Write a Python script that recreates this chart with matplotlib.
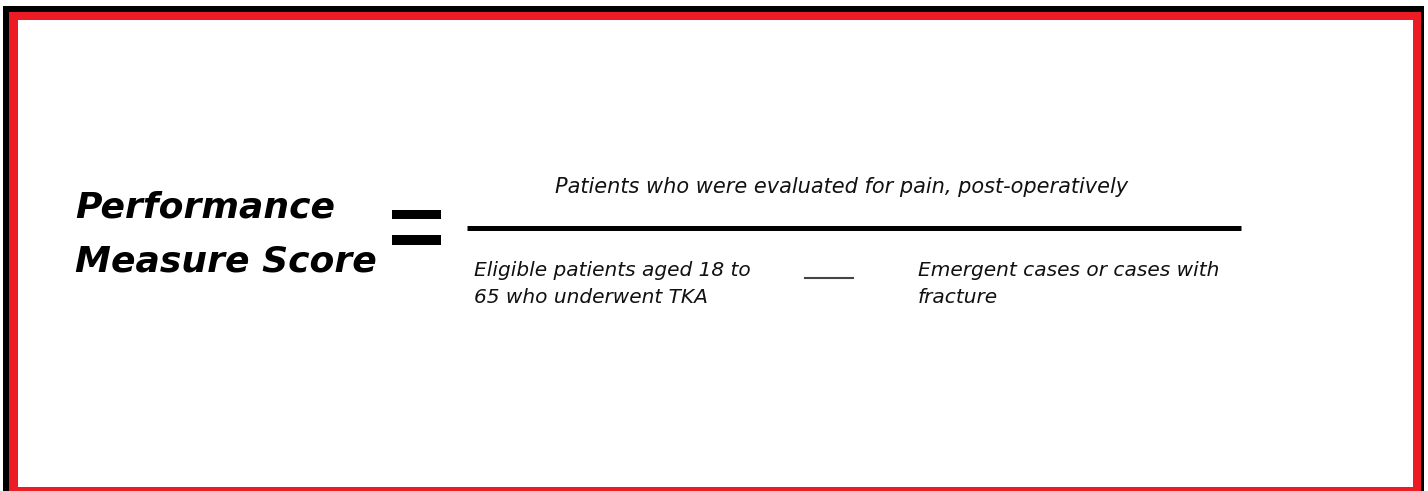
#!/usr/bin/env python
# -*- coding: utf-8 -*-
"""
performance measure score formula
"""

import matplotlib.pyplot as plt
from matplotlib.patches import Rectangle

# texts
score_label = ["Performance", "Measure Score"]
numerator = "Patients who were evaluated for pain, post-operatively"
denominator = ["Eligible patients aged 18 to", "65 who underwent TKA"]
exclusion = ["Emergent cases or cases with", "fracture"]

W, H = 1428, 491

fig = plt.figure(figsize=(W / 100, H / 100), dpi=100)
ax = fig.add_axes([0, 0, 1, 1])
ax.set_xlim(0, W)
ax.set_ylim(H, 0)
ax.axis("off")

# frame: black, red, white
ax.add_patch(Rectangle((3, 6), 1421, 495, facecolor="black", edgecolor="none"))
ax.add_patch(Rectangle((9, 12), 1412, 490, facecolor="#ed1c24", edgecolor="none"))
ax.add_patch(Rectangle((18, 20), 1395, 467, facecolor="white", edgecolor="none"))

# left side
for i, line in enumerate(score_label):
    ax.text(75, 217 + i * 54, line, fontsize=26, fontweight="bold",
            fontstyle="italic", family="DejaVu Sans", va="baseline", ha="left")

# equals sign
ax.add_patch(Rectangle((392, 210), 49, 9, facecolor="black"))
ax.add_patch(Rectangle((392, 235), 49, 10, facecolor="black"))

# fraction bar
ax.plot([467, 1241], [227.5, 227.5], color="black", lw=3.6, solid_capstyle="butt")

small = dict(fontstyle="italic", family="DejaVu Sans",
             va="baseline", ha="left", color="#111111")
ax.text(555, 193, numerator, fontsize=15, **small)
for i, line in enumerate(denominator):
    ax.text(474, 276 + i * 27, line, fontsize=14.5, **small)
for i, line in enumerate(exclusion):
    ax.text(918, 276 + i * 27, line, fontsize=14.5, **small)

# minus
ax.plot([805, 853], [278, 278], color="#444444", lw=1.5)

fig.savefig("out.png", dpi=100)
